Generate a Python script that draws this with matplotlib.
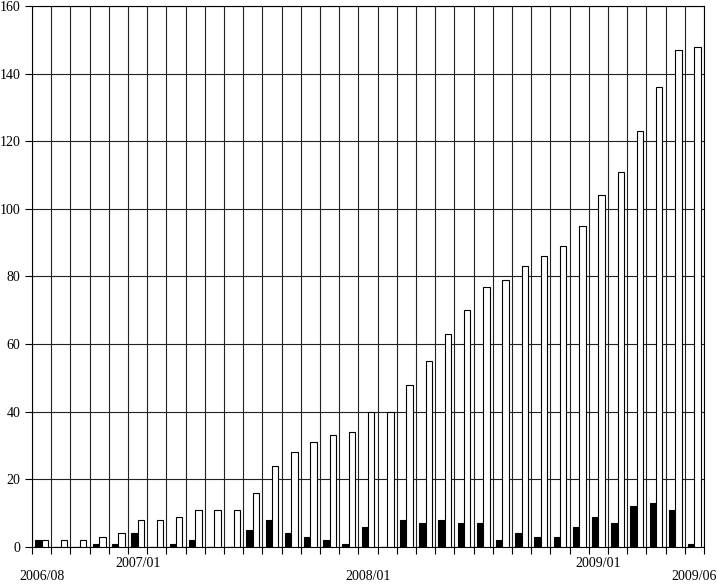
import numpy as np
import matplotlib.pyplot as plt

plt.rcParams['font.family'] = ['Liberation Serif', 'DejaVu Serif']

# monthly counts, 2006/08 .. 2009/06
black_vals = [2, 0, 0, 1, 1, 4, 0, 1, 2, 0, 0, 5, 8, 4, 3, 2, 1, 6, 0, 8, 7, 8, 7, 7,
              2, 4, 3, 3, 6, 9, 7, 12, 13, 11, 1]
white_vals = [2, 2, 2, 3, 4, 8, 8, 9, 11, 11, 11, 16, 24, 28, 31, 33, 34, 40, 40, 48,
              55, 63, 70, 77, 79, 83, 86, 89, 95, 104, 111, 123, 136, 147, 148]
shown_months = {0: '2006/08', 5: '2007/01', 17: '2008/01', 29: '2009/01', 34: '2009/06'}
lower_row = [0, 17, 34]

n = len(black_vals)
x = np.arange(n)
w = 0.333

fig = plt.figure(figsize=(7.18, 5.84), dpi=100)
ax = fig.add_axes([0.0446, 0.0634, 0.9359, 0.9263])

ax.bar(x + 0.5 - w / 2, black_vals, width=w, color='black', edgecolor='black',
       linewidth=0.8, zorder=3)
ax.bar(x + 0.5 + w / 2, white_vals, width=w, color='white', edgecolor='black',
       linewidth=0.8, zorder=3)

ax.set_xlim(0, n)
ax.set_ylim(0, 160)

# month boundaries as major ticks / vertical grid
ax.set_xticks(np.arange(n + 1))
ax.set_xticklabels([])
ax.tick_params(axis='x', which='major', direction='out', length=5, width=0.8)

# labels centred on months, two staggered rows
pos = sorted(shown_months)
ax.set_xticks([p + 0.5 for p in pos], minor=True)
ax.set_xticklabels([('\n' if p in lower_row else '') + shown_months[p] for p in pos],
                   minor=True, fontsize=10)
for t in ax.get_xticklabels(minor=True):
    t.set_linespacing(1.0)
ax.tick_params(axis='x', which='minor', length=0, pad=7.5)

ax.set_yticks(np.arange(0, 161, 20))
ax.tick_params(axis='y', direction='out', length=5, width=0.8, pad=3.5, labelsize=10)

ax.grid(True, color='#222222', linewidth=0.8, zorder=0)
ax.set_axisbelow(True)
for s in ax.spines.values():
    s.set_linewidth(0.8)

fig.savefig('out.png', dpi=100)
